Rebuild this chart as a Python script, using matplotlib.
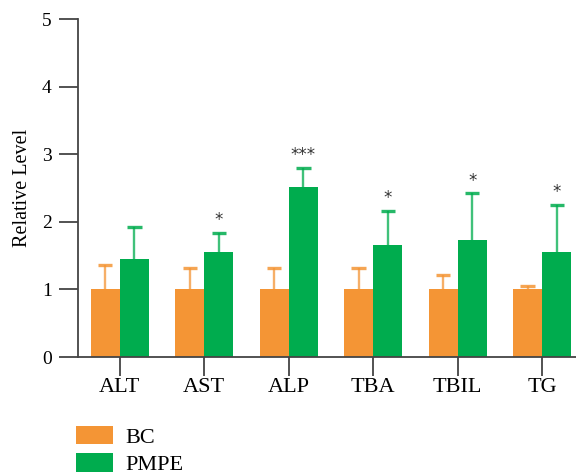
import matplotlib
matplotlib.use("Agg")
import matplotlib.pyplot as plt
import numpy as np

categories = ["ALT", "AST", "ALP", "TBA", "TBIL", "TG"]
bc_values = [1.0, 1.0, 1.0, 1.0, 1.0, 1.0]
bc_err = [0.36, 0.31, 0.32, 0.31, 0.21, 0.05]
pmpe_values = [1.45, 1.55, 2.51, 1.66, 1.73, 1.55]
pmpe_err = [0.48, 0.29, 0.29, 0.50, 0.69, 0.70]
significance = ["", "*", "***", "*", "*", "*"]
yticks = [0, 1, 2, 3, 4, 5]

orange = "#F49535"
green = "#00AC4E"

plt.rcParams["font.family"] = ["Liberation Serif", "DejaVu Serif"]

fig = plt.figure(figsize=(5.76, 4.74), dpi=100)
ax = fig.add_axes([78/576, 1-357/474, 1-78/576, (357-19)/474])

x = np.arange(len(categories))
w = 0.345
cap = 0.085

ax.bar(x - w/2, bc_values, w, color=orange, label="BC", zorder=2)
ax.bar(x + w/2, pmpe_values, w, color=green, label="PMPE", zorder=2)

for xs, vals, errs, col in [(x - w/2, bc_values, bc_err, orange),
                            (x + w/2, pmpe_values, pmpe_err, green)]:
    vals = np.array(vals); errs = np.array(errs)
    ax.vlines(xs, vals, vals + errs, color=col, alpha=0.75, lw=1.7, zorder=1)
    ax.hlines(vals + errs, xs - cap, xs + cap, color=col, alpha=0.85, lw=2.4, zorder=1)

for xi, v, e, s in zip(x, pmpe_values, pmpe_err, significance):
    if s:
        ax.text(xi + w/2, v + e + 0.19, s, ha="center", va="center",
                fontsize=12, color="#333333", family="DejaVu Sans")

ax.set_xlim(-0.495, 5.40)
ax.set_ylim(0, 5)
ax.set_yticks(yticks)
ax.set_xticks(x)
ax.set_xticklabels(categories, fontsize=16)
ax.tick_params(axis="y", labelsize=14, length=14, width=1.3, color="#444444", pad=5)
ax.tick_params(axis="x", length=14, width=1.3, color="#444444", pad=1)
for side in ["top", "right"]:
    ax.spines[side].set_visible(False)
for side in ["left", "bottom"]:
    ax.spines[side].set_color("#444444")
    ax.spines[side].set_linewidth(1.3)

ax.set_ylabel("Relative Level", fontsize=14.5, labelpad=7)

fig.legend(loc="upper left", bbox_to_anchor=(76/576, 1-426/474), frameon=False,
           fontsize=16, handlelength=1.65, handleheight=0.9, handletextpad=0.55,
           labelspacing=0.25, borderpad=0, borderaxespad=0)

fig.savefig("out.png", dpi=100)
